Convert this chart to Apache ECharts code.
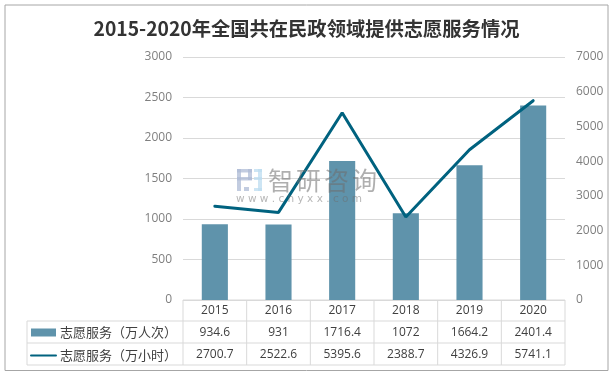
<!DOCTYPE html>
<html><head><meta charset="utf-8">
<style>html,body{margin:0;padding:0;background:#fff}#c{width:613px;height:374px}</style>
<script src="https://cdn.jsdelivr.net/npm/echarts@6/dist/echarts.min.js"></script>
</head><body><div id="c"></div>
<script>
const years = ['2015','2016','2017','2018','2019','2020'];
const personTimes = [934.6, 931, 1716.4, 1072, 1664.2, 2401.4];
const hours = [2700.7, 2522.6, 5395.6, 2388.7, 4326.9, 5741.1];
const nameBars = '志愿服务（万人次）';
const nameLine = '志愿服务（万小时）';
const titleText = '2015-2020年全国共在民政领域提供志愿服务情况';
const wmName = '智研咨询';
const wmUrl = 'w w w . c h y x x . c o m';

const gL = 183, gR = 565, gT = 57, gB = 300, tL = 27, r1 = 321, r2 = 343, r3 = 365;
const cw = (gR - gL) / years.length;
const lineC = '#d9d9d9', txtC = '#404040';
const g = [];
const ln = (x1,y1,x2,y2) => g.push({type:'line',silent:true,z:1,shape:{x1,y1,x2,y2},style:{stroke:lineC,lineWidth:1}});
g.push({type:'rect',silent:true,z:0,shape:{x:5,y:5,width:603,height:365.5},style:{fill:'#fff',stroke:'#a6a6a6',lineWidth:1}});
ln(gL,gB,gL,r3); ln(gR,gB,gR,r3); ln(tL,r1,tL,r3);
ln(gL,gB,gR,gB); ln(tL,r1,gR,r1); ln(tL,r2,gR,r2); ln(tL,r3,gR,r3);
years.forEach((y,i)=>{
  if(i>0) ln(gL+cw*i,gB,gL+cw*i,r3);
  const cx = gL+cw*(i+.5);
  g.push({type:'text',silent:true,z:2,style:{x:cx,y:(r1+r2)/2+.5,text:String(personTimes[i]),align:'center',verticalAlign:'middle',font:'12px "Open Sans"',fill:txtC}});
  g.push({type:'text',silent:true,z:2,style:{x:cx,y:(r2+r3)/2+.5,text:String(hours[i]),align:'center',verticalAlign:'middle',font:'12px "Open Sans"',fill:txtC}});
});
// watermark
const wm = {z:20,silent:true};
const wmRect=(x,y,w,h,c)=>g.push({type:'rect',...wm,shape:{x,y,width:w,height:h},style:{fill:c,opacity:.75}});
const a='#aebbd6', b='#bcdcf0';
wmRect(237,169,15,3.5,a); wmRect(248,169,4,11,a); wmRect(237,177,15,3.5,a); wmRect(237,169,4,22,a);
wmRect(254,169,8,3,b); wmRect(254,177,8,3,b); wmRect(258,169,4,22,b); wmRect(254,188,8,3,b); wmRect(244,187,5,4,a);
Array.from(wmName).forEach((ch,i)=>g.push({type:'text',...wm,style:{x:268+i*28,y:180,text:ch,align:'left',verticalAlign:'middle',font:'25px "Noto Sans CJK SC"',fill:'rgba(110,110,110,0.55)'}}));
g.push({type:'text',...wm,style:{x:236,y:199,text:wmUrl,align:'left',verticalAlign:'middle',font:'10.5px "DejaVu Sans"',fill:'rgba(110,110,110,0.5)'}});

const chart = echarts.init(document.getElementById('c'));
chart.setOption({
  animation:false,
  backgroundColor:'#fff',
  title:{text:titleText,left:'center',top:17,padding:0,textStyle:{fontFamily:'"Noto Sans CJK SC"',fontSize:19.3,fontWeight:'bold',color:'#333',lineHeight:24}},
  legend:{orient:'vertical',left:30,top:326,itemGap:10,itemWidth:25,itemHeight:8,padding:0,
    data:[{name:nameBars,icon:'rect'},{name:nameLine,itemStyle:{opacity:0}}],
    textStyle:{fontFamily:'"Noto Sans CJK SC"',fontSize:13,color:txtC,padding:[0,0,0,-1]}},
  grid:{left:gL,right:613-gR,top:gT,bottom:374-gB},
  xAxis:{type:'category',data:years,axisTick:{show:false},axisLine:{show:false},
    axisLabel:{margin:5,fontFamily:'"Open Sans"',fontSize:12,color:txtC}},
  yAxis:[
    {type:'value',min:0,max:3000,interval:500,position:'left',axisLine:{show:false},axisTick:{show:false},
     splitLine:{lineStyle:{color:lineC,width:1}},
     axisLabel:{margin:11,formatter:v=>String(v),fontFamily:'"Open Sans"',fontSize:12,color:'#7f7f7f'}},
    {type:'value',min:0,max:7000,interval:1000,position:'right',axisLine:{show:false},axisTick:{show:false},
     splitLine:{show:false},
     axisLabel:{margin:11,formatter:v=>String(v),fontFamily:'"Open Sans"',fontSize:12,color:'#7f7f7f'}}
  ],
  series:[
    {name:nameBars,type:'bar',yAxisIndex:0,data:personTimes,barWidth:'41%',itemStyle:{color:'#5f93ab'},z:2},
    {name:nameLine,type:'line',yAxisIndex:1,data:hours,showSymbol:false,symbol:'none',lineStyle:{color:'#00627f',width:3,cap:'round'},itemStyle:{color:'#00627f'},z:3}
  ],
  graphic:g
});
</script></body></html>
